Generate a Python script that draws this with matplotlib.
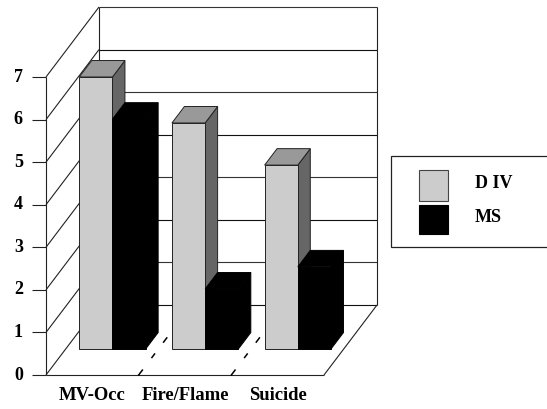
import matplotlib
matplotlib.use('Agg')
import matplotlib.pyplot as plt
from matplotlib.patches import Polygon, Rectangle

plt.rcParams['font.family'] = ['Liberation Serif', 'DejaVu Serif']

cats = ['MV-Occ', 'Fire/Flame', 'Suicide']
div = [6.39, 5.31, 4.32]
ms = [5.40, 1.41, 1.93]
yticks = [0, 1, 2, 3, 4, 5, 6, 7]
series = ['D IV', 'MS']

W = 547; H = 409
x0 = 46; cat_px = 92.67   # front corner of floor, width of a category
y0 = 375; val_px = 42.57  # pixels of one unit
dep_x = 53 / cat_px       # wall depth in data units
dep_y = 70 / val_px

fig = plt.figure(figsize=(W / 100, H / 100), dpi=100)
ax = fig.add_axes([0, 0, 1, 1])
ax.set_xlim(-x0 / cat_px, (W - x0) / cat_px)
ax.set_ylim((y0 - H) / val_px, y0 / val_px)
ax.axis('off')


def pt(x, v, d):
    # oblique projection, d=0 front of the floor, d=1 back wall
    return (x + d * dep_x, v + d * dep_y)


def line(a, b, col='#222222', z=1, **kw):
    ax.plot([a[0], b[0]], [a[1], b[1]], color=col, lw=0.8, zorder=z,
            solid_capstyle='butt', **kw)


ncat = len(cats)
vmax = yticks[-1]

#%% walls and floor
for v in yticks:
    line(pt(-0.15, v, 0), pt(0, v, 0))
    line(pt(0, v, 0), pt(0, v, 1))
    line(pt(0, v, 1), pt(ncat, v, 1), col='#333333' if v % 2 else '#111111')
    ax.text(-0.25, v, str(v), ha='right', va='center', fontsize=13,
            fontweight='bold', color='black')
line(pt(0, 0, 0), pt(0, vmax, 0))
line(pt(0, 0, 1), pt(0, vmax, 1))
line(pt(ncat, 0, 1), pt(ncat, vmax, 1))
line(pt(0, 0, 0), pt(ncat, 0, 0))
line(pt(ncat, 0, 0), pt(ncat, 0, 1))

# floor dividers only show in pieces
for i in range(1, ncat):
    for d1, d2 in [(0, 0.07), (0.25, 0.3), (0.47, 0.53)]:
        ax.plot(*zip(pt(i, 0, d1), pt(i, 0, d2)), color='black', lw=1.1, zorder=1)

#%% bars
d_a = 26 / 70; d_b = d_a + 0.235
bw = 33.2 / cat_px
for i in range(ncat):
    xl = i + 0.505 - bw
    for x, v, front, top, side, ec in [
            (xl, div[i], '#CCCCCC', '#999999', '#666666', '#222222'),
            (xl + bw, ms[i], 'black', 'black', 'black', 'black')]:
        f = [pt(x, 0, d_a), pt(x + bw, 0, d_a), pt(x + bw, v, d_a), pt(x, v, d_a)]
        t = [pt(x, v, d_a), pt(x + bw, v, d_a), pt(x + bw, v, d_b), pt(x, v, d_b)]
        s = [pt(x + bw, 0, d_a), pt(x + bw, 0, d_b), pt(x + bw, v, d_b), pt(x + bw, v, d_a)]
        for poly, col in [(s, side), (t, top), (f, front)]:
            ax.add_patch(Polygon(poly, closed=True, facecolor=col, edgecolor=ec,
                                 lw=0.7, zorder=3))
    ax.text(i + 0.5, (y0 - 395) / val_px, cats[i], ha='center',
            va='center', fontsize=13.4, fontweight='bold', color='black')

#%% legend
tr = ax.transAxes


def fx(px):
    return px / W


def fy(py):
    return 1 - py / H


ax.add_patch(Rectangle((fx(391), fy(247)), fx(170), fy(156) - fy(247), transform=tr,
                       facecolor='white', edgecolor='#222222', lw=0.9, zorder=2))
for name, col, ec, ya, yb in [(series[0], '#CCCCCC', '#444444', 170, 201),
                              (series[1], 'black', 'black', 205, 234)]:
    ax.add_patch(Rectangle((fx(419), fy(yb)), fx(29), fy(ya) - fy(yb), transform=tr,
                           facecolor=col, edgecolor=ec, lw=0.8, zorder=3))
    ax.text(fx(475), fy((ya + yb) / 2 - 2), name, transform=tr, ha='left', va='center',
            fontsize=13, fontweight='bold', color='black')

fig.savefig('out.png', dpi=100)
